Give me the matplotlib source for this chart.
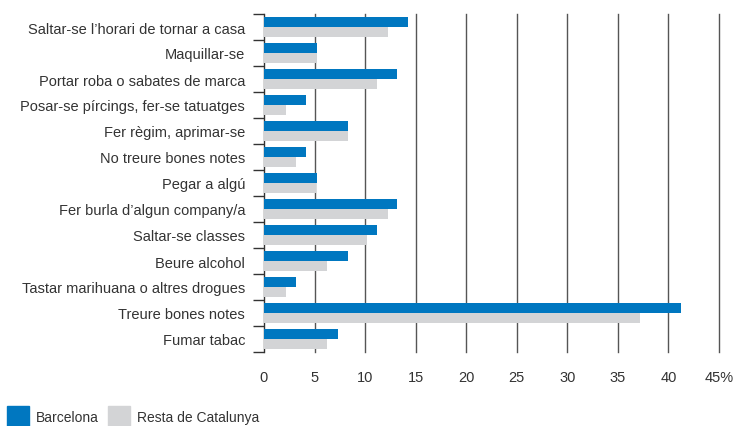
import numpy as np
import matplotlib.pyplot as plt
from matplotlib.patches import Patch

categories = [
    "Saltar-se l\u2019horari de tornar a casa",
    "Maquillar-se",
    "Portar roba o sabates de marca",
    "Posar-se p\u00edrcings, fer-se tatuatges",
    "Fer r\u00e8gim, aprimar-se",
    "No treure bones notes",
    "Pegar a alg\u00fa",
    "Fer burla d\u2019algun company/a",
    "Saltar-se classes",
    "Beure alcohol",
    "Tastar marihuana o altres drogues",
    "Treure bones notes",
    "Fumar tabac",
]
barcelona = [14.2, 5.2, 13.2, 4.2, 8.3, 4.2, 5.2, 13.2, 11.2, 8.3, 3.2, 41.2, 7.3]
resta = [12.3, 5.2, 11.2, 2.2, 8.3, 3.2, 5.1, 12.3, 10.2, 6.2, 2.2, 37.2, 6.2]
xticks = [0, 5, 10, 15, 20, 25, 30, 35, 40, 45]
xticklabels = ["0", "5", "10", "15", "20", "25", "30", "35", "40", "45%"]

blue = "#0077c0"
grey = "#d3d4d6"
txt = "#333333"

plt.rcParams["font.family"] = ["Liberation Sans", "DejaVu Sans"]
plt.rcParams["font.size"] = 10.5

W, H = 738, 427
fig = plt.figure(figsize=(W / 100, H / 100), dpi=100)
ax = fig.add_axes([264 / W, (H - 353) / H, (719 - 264) / W, (353 - 15) / H])

y = np.arange(len(categories))
h = 10 / 26
ax.barh(y - h / 2, barcelona, height=h, color=blue, zorder=3)
ax.barh(y + h / 2, resta, height=h, color=grey, zorder=3)

ax.set_ylim(len(categories) - 0.5, -0.5)
ax.set_xlim(0, 45)

for x in xticks[1:]:
    ax.axvline(x, color="#555555", lw=1.0, zorder=1, clip_on=False)

ax.set_yticks(y)
ax.set_yticklabels(categories, color=txt)
ax.set_yticks(np.arange(-0.5, len(categories)), minor=True)
ax.tick_params(axis="y", which="major", length=0, pad=13.5)
ax.tick_params(axis="y", which="minor", length=8, width=1, color="#333333")

ax.set_xticks(xticks)
ax.set_xticklabels(xticklabels, color=txt)
ax.tick_params(axis="x", length=0, pad=13)

for s in ["top", "right", "bottom"]:
    ax.spines[s].set_visible(False)
ax.spines["left"].set_color("#333333")
ax.spines["left"].set_linewidth(1.0)

handles = [Patch(color=blue, label="Barcelona"), Patch(color=grey, label="Resta de Catalunya")]
leg = fig.legend(handles=handles, loc="lower left", ncol=2,
                 frameon=False, handlelength=1.6, handleheight=2.1, handletextpad=0.45,
                 columnspacing=0.7, borderaxespad=0.0, borderpad=0.0, labelcolor=txt,
                 fontsize=10)
leg.set_bbox_to_anchor((7 / W, -2 / H), transform=fig.transFigure)

fig.savefig("out.png", dpi=100)
